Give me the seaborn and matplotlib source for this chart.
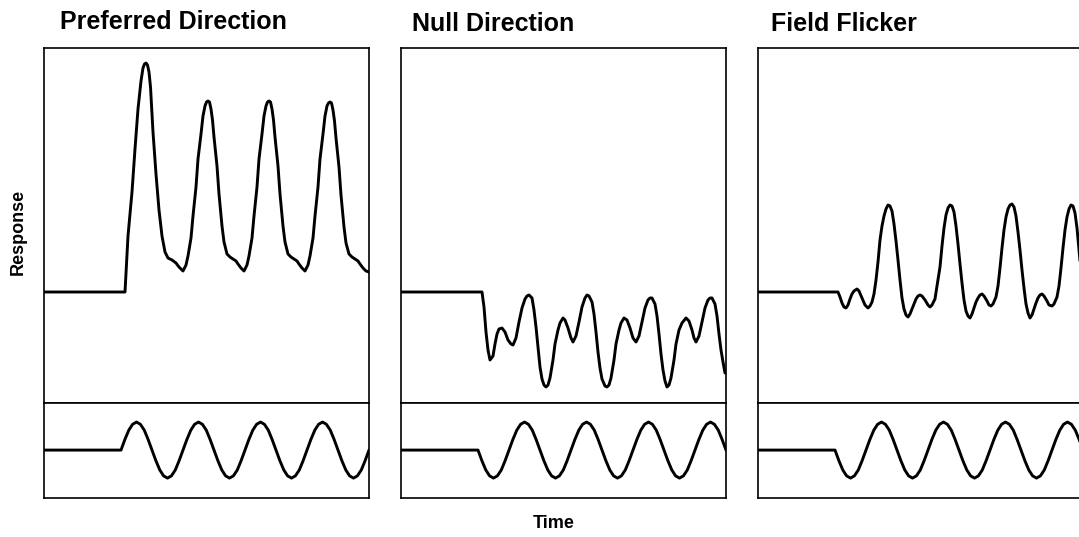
import matplotlib
matplotlib.use("Agg")
import matplotlib.pyplot as plt
import seaborn as sns
import pandas as pd

# ---------------- data (arbitrary units) -------------
panel_titles = ["Preferred Direction", "Null Direction", "Field Flicker"]
x_label = "Time"
y_label = "Response"

# Preferred direction response
pref_time = [0, 81, 84, 88, 91, 94, 97, 99, 100.5, 102, 103.5, 105, 106.5, 109, 112, 115, 118, 121, 124, 128, 132, 135, 139,
             142, 144, 147, 149, 152, 154, 157, 159, 161, 162.5, 164, 165.5, 167, 168.5, 170, 173, 175, 178, 180, 183, 186, 189, 192, 194, 197, 200,
             203, 205, 208, 210, 213, 215, 218, 220, 222, 223.5, 225, 226.5, 228, 229.5, 231, 234, 236, 239, 241, 244, 247, 250, 253, 255, 258, 261,
             264, 266, 269, 271, 274, 276, 279, 281, 283, 284.5, 286, 287.5, 289, 290.5, 292, 295, 297, 300, 302, 305, 308, 311, 314, 316, 319, 322, 325]
pref_resp = [0, 0, 56, 100, 143, 183, 211, 224, 228, 229, 227, 220, 205, 160, 118, 82, 56, 40, 34, 32, 29, 25, 21,
             27, 36, 54, 76, 105, 133, 158, 176, 186, 190, 191, 190, 183, 172, 155, 126, 98, 66, 50, 38, 35, 33, 31, 28, 24, 21,
             27, 36, 54, 76, 105, 133, 158, 176, 186, 190, 191, 190, 183, 172, 155, 126, 98, 66, 50, 38, 35, 33, 31, 28, 24, 21,
             27, 36, 54, 76, 105, 133, 158, 176, 186, 189, 190, 189, 182, 171, 154, 125, 97, 65, 49, 38, 35, 33, 31, 28, 24, 21, 20]

# Null direction response
null_time = [0, 81, 83, 85, 87, 89, 92, 94, 96, 98, 101, 104, 107, 110, 112, 115, 118, 121, 124, 126, 128, 131, 133,
             135, 137, 139, 141, 143, 145, 147, 149, 152, 154, 157, 159, 162, 164, 167, 170, 172, 175, 178, 181, 184,
             186, 188, 191, 193, 195, 197, 199, 201, 204, 206, 208, 210, 213, 215, 218, 220, 223, 226, 229, 232, 235,
             238, 241, 244, 247, 249, 251, 254, 256, 258, 260, 262, 264, 266, 268, 270, 273, 275, 278, 281, 285, 288,
             291, 293, 295, 298, 301, 304, 307, 309, 311, 314, 316, 318, 320, 322, 324]
null_resp = [0, 0, -15, -40, -58, -68, -64, -52, -42, -37, -36, -40, -48, -52, -53, -46, -30, -16, -7, -4, -3, -6, -18,
             -35, -55, -75, -87, -93, -95, -93, -86, -68, -52, -38, -31, -26, -28, -36, -46, -50, -44, -30, -15, -6,
             -3, -4, -10, -22, -40, -60, -76, -87, -94, -95, -93, -86, -68, -52, -38, -31, -26, -28, -36, -46, -50,
             -44, -30, -16, -8, -6, -6, -12, -24, -42, -62, -78, -89, -95, -93, -86, -68, -52, -38, -31, -26, -29,
             -38, -46, -50, -44, -30, -16, -8, -6, -6, -12, -24, -42, -58, -70, -81]

# Field flicker response
flick_time = [0, 80, 82, 84, 86, 88, 90, 92, 94, 96, 99, 101, 104, 107, 110, 112, 114, 116, 118, 120, 122, 124, 126,
              128, 130, 132, 134, 136, 138, 140, 142, 144, 146, 148, 150, 152, 154, 156, 158, 160, 162, 164, 167, 170,
              172, 174, 177, 179, 182, 184, 186, 188, 190, 192, 194, 196, 198, 200, 202, 204, 206, 208, 210, 212, 214,
              216, 218, 220, 222, 224, 226, 229, 231, 233, 235, 238, 240, 242, 244, 246, 248, 250, 252, 254, 256, 258,
              260, 262, 264, 266, 268, 270, 272, 274, 276, 278, 280, 282, 284, 286, 289, 291, 294, 296, 299, 301, 303,
              305, 307, 309, 311, 313, 315, 317, 319, 321, 323, 325]
flick_resp = [0, 0, -5, -11, -15, -16, -13, -7, -2, 1, 3, 1, -6, -13, -16, -14, -10, -2, 12, 30, 52, 66, 76,
              83, 87, 86, 81, 68, 51, 32, 12, -6, -17, -23, -25, -22, -17, -12, -7, -4, -3, -4, -8, -13,
              -15, -13, -7, 6, 25, 46, 64, 77, 84, 87, 86, 80, 66, 48, 28, 9, -8, -19, -24, -26, -22,
              -16, -10, -6, -3, -2, -4, -9, -13, -14, -12, -5, 6, 24, 44, 62, 75, 83, 87, 88, 85, 76,
              60, 42, 22, 4, -12, -21, -26, -23, -17, -11, -6, -3, -2, -4, -9, -13, -14, -12, -5, 6, 24,
              44, 62, 75, 83, 87, 86, 79, 64, 42, 20, 0]

# Stimulus traces (shared sampling times)
stim_time = [0, 77, 80.9, 84.8, 88.6, 92.5, 96.4, 100.3, 104.1, 108, 111.9, 115.8, 119.6, 123.5, 127.4, 131.3, 135.1,
             139, 142.9, 146.8, 150.6, 154.5, 158.4, 162.3, 166.1, 170, 173.9, 177.8, 181.6, 185.5, 189.4, 193.3, 197.1,
             201, 204.9, 208.8, 212.6, 216.5, 220.4, 224.3, 228.1, 232, 235.9, 239.8, 243.6, 247.5, 251.4, 255.3, 259.1,
             263, 266.9, 270.8, 274.6, 278.5, 282.4, 286.3, 290.1, 294, 297.9, 301.8, 305.6, 309.5, 313.4, 317.3, 321.1,
             325]
stim_pref = [0, 0, .38, .71, .92, 1, .92, .71, .38, 0, -.38, -.71, -.92, -1, -.92, -.71, -.38,
             0, .38, .71, .92, 1, .92, .71, .38, 0, -.38, -.71, -.92, -1, -.92, -.71, -.38,
             0, .38, .71, .92, 1, .92, .71, .38, 0, -.38, -.71, -.92, -1, -.92, -.71, -.38,
             0, .38, .71, .92, 1, .92, .71, .38, 0, -.38, -.71, -.92, -1, -.92, -.71, -.38, 0]
stim_null = [0, 0, -.38, -.71, -.92, -1, -.92, -.71, -.38, 0, .38, .71, .92, 1, .92, .71, .38,
             0, -.38, -.71, -.92, -1, -.92, -.71, -.38, 0, .38, .71, .92, 1, .92, .71, .38,
             0, -.38, -.71, -.92, -1, -.92, -.71, -.38, 0, .38, .71, .92, 1, .92, .71, .38,
             0, -.38, -.71, -.92, -1, -.92, -.71, -.38, 0, .38, .71, .92, 1, .92, .71, .38, 0]
stim_flick = [0, 0, -.38, -.71, -.92, -1, -.92, -.71, -.38, 0, .38, .71, .92, 1, .92, .71, .38,
              0, -.38, -.71, -.92, -1, -.92, -.71, -.38, 0, .38, .71, .92, 1, .92, .71, .38,
              0, -.38, -.71, -.92, -1, -.92, -.71, -.38, 0, .38, .71, .92, 1, .92, .71, .38,
              0, -.38, -.71, -.92, -1, -.92, -.71, -.38, 0, .38, .71, .92, 1, .92, .71, .38, 0]

# ---------------- styling ---------------------------------------------------------------
sns.set_theme(style="white")
plt.rcParams["font.family"] = ["Liberation Sans", "DejaVu Sans"]

W, H = 1079, 537
fig = plt.figure(figsize=(W / 100, H / 100), dpi=100)
fig.patch.set_facecolor("white")

panels = [
    (pref_time, pref_resp, stim_pref),
    (null_time, null_resp, stim_null),
    (flick_time, flick_resp, stim_flick),
]
lefts_px = [44, 401, 758]
title_px = [(60, 29), (412, 31), (771, 31)]
pw = 325

for i, (tt, rr, ss) in enumerate(panels):
    lp = lefts_px[i]
    ax_r = fig.add_axes([lp / W, (H - 403) / H, pw / W, 355 / H])
    ax_s = fig.add_axes([lp / W, (H - 498) / H, pw / W, 95 / H])

    df_r = pd.DataFrame({"t": tt, "v": rr})
    df_s = pd.DataFrame({"t": stim_time, "v": ss})
    sns.lineplot(data=df_r, x="t", y="v", ax=ax_r, color="black", linewidth=2.1,
                 estimator=None, sort=False)
    sns.lineplot(data=df_s, x="t", y="v", ax=ax_s, color="black", linewidth=2.1,
                 estimator=None, sort=False)

    ax_r.set_xlim(0, 325)
    ax_r.set_ylim(-111, 244)
    ax_s.set_xlim(0, 325)
    ax_s.set_ylim(-1.71, 1.68)
    for ax in (ax_r, ax_s):
        ax.set_xticks([])
        ax.set_yticks([])
        ax.set_xlabel("")
        ax.set_ylabel("")
        ax.set_facecolor("white")
        for sp in ax.spines.values():
            sp.set_visible(True)
            sp.set_color("black")
            sp.set_linewidth(1.2)

    tx, ty = title_px[i]
    fig.text(tx / W, 1 - ty / H, panel_titles[i], ha="left", va="baseline",
             fontsize=18, fontweight="bold", color="black")

fig.text(18 / W, 1 - 232 / H, y_label, rotation=90, ha="center", va="center",
         fontsize=13, fontweight="bold", color="black")
fig.text(554 / W, 1 - 523 / H, x_label, ha="center", va="center",
         fontsize=13, fontweight="bold", color="black")

fig.savefig("out.png", dpi=100, facecolor="white")
